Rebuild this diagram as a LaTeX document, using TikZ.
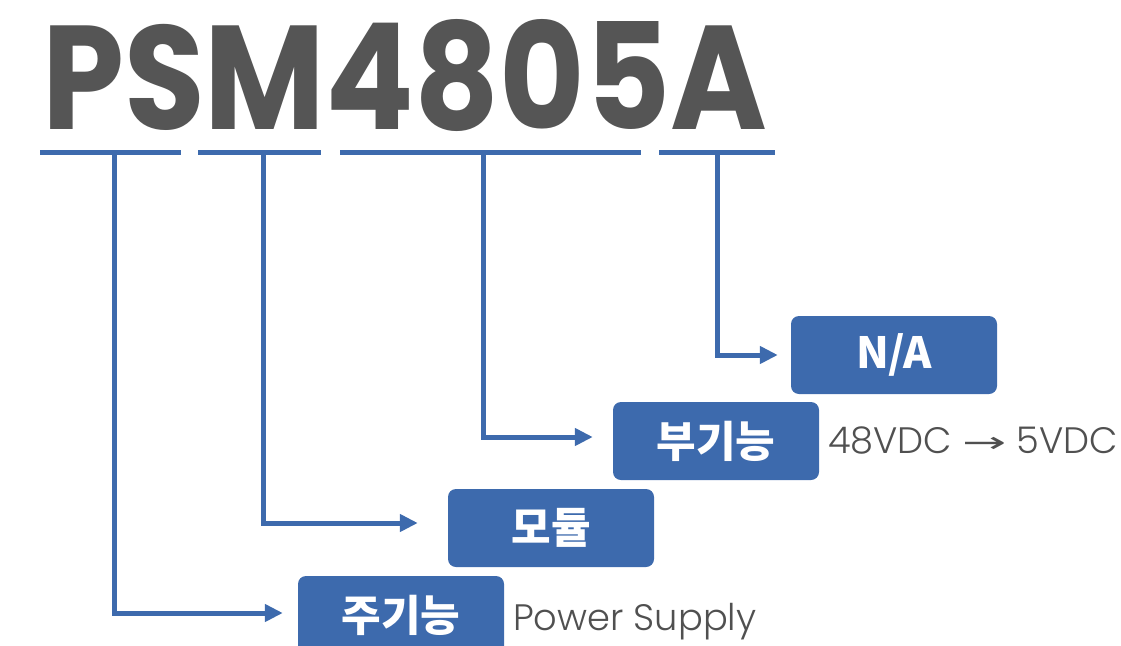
\documentclass[tikz,border=0pt]{standalone}
\usepackage{fontspec}
\usetikzlibrary{arrows.meta}
\newfontfamily\krfont{Noto Sans CJK KR}
\newfontfamily\titlefont{Poppins}
\newfontfamily\sidefont{Poppins}[UprightFont={* Light}]
\newfontfamily\symfont{DejaVu Sans}
\definecolor{boxblue}{HTML}{3D6AAD}
\definecolor{titlegray}{HTML}{555555}
\definecolor{sidegray}{HTML}{505050}
\tikzset{
  codebox/.style={fill=boxblue, rounded corners=8pt, minimum width=206pt, minimum height=78pt,
    inner sep=0pt, text=white, font=\krfont\bfseries\fontsize{43}{48}\selectfont},
  underline/.style={draw=boxblue, line width=5pt},
  conn/.style={draw=boxblue, line width=5pt, -{Triangle[length=18pt,width=17pt]}},
  sidetext/.style={anchor=base west, inner sep=0pt, text=sidegray, font=\sidefont\fontsize{36.8}{40}\selectfont}
}
\begin{document}
\begin{tikzpicture}[x=1pt,y=-1pt]
\useasboundingbox (0,0) rectangle (1121,645);
% title
\node[anchor=base west, inner sep=0pt, text=titlegray] (title) at (42,129)
  {\titlefont\bfseries\resizebox{725pt}{110pt}{PSM4805A}};
% underlines
\coordinate (u1l) at (40,152.5);  \coordinate (u1r) at (181,152.5);
\coordinate (u2l) at (198,152.5); \coordinate (u2r) at (321,152.5);
\coordinate (u3l) at (340,152.5); \coordinate (u3r) at (641,152.5);
\coordinate (u4l) at (659,152.5); \coordinate (u4r) at (775,152.5);
\draw[underline] (u1l) -- (u1r);
\draw[underline] (u2l) -- (u2r);
\draw[underline] (u3l) -- (u3r);
\draw[underline] (u4l) -- (u4r);
\coordinate (v1) at (114.5,152.5);
\coordinate (v2) at (263,152.5);
\coordinate (v3) at (483,152.5);
\coordinate (v4) at (717,152.5);
% boxes
\node[codebox] (b1) at (401,615) {주기능};
\node[codebox] (b2) at (551,528) {모듈};
\node[codebox] (b3) at (716,441) {부기능};
\node[codebox] (b4) at (894,355) {N/A};
% side texts
\node[sidetext] (t3) at (828,453) {48VDC {\symfont\fontsize{24}{30}\selectfont\raisebox{1pt}{\scalebox{2.2}[1.2]{→}}} 5VDC};
\node[sidetext] (t1) at (513,630) {Power Supply};
% connectors
\draw[conn, shorten >=15pt] (v1) |- ([yshift=2pt]b1.west);
\draw[conn, shorten >=30pt] (v2) |- ([yshift=5pt]b2.west);
\draw[conn, shorten >=20pt] (v3) |- ([yshift=4pt]b3.west);
\draw[conn, shorten >=13pt] (v4) |- (b4.west);
\end{tikzpicture}
\end{document}
